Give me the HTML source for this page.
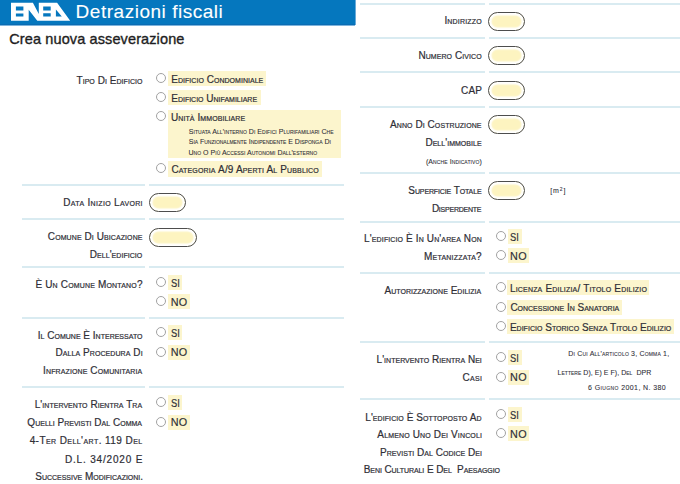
<!DOCTYPE html>
<html><head><meta charset="utf-8"><style>
html,body{margin:0;padding:0;background:#fff;width:680px;height:484px;overflow:hidden;position:relative}
body{font-family:"Liberation Sans",sans-serif}
.t{position:absolute;white-space:nowrap;display:block;-webkit-text-stroke:0.2px currentColor}
.t sup{font-size:5px;vertical-align:2.5px;line-height:0}
.ln{position:absolute;background:#d9ebf1}
.bx{position:absolute}
.rd{position:absolute;box-sizing:border-box;border:1.3px solid #a2a2a2;border-radius:50%;background:#fff}
.in{position:absolute;box-sizing:border-box;border:1.9px solid #4d4d4d;border-radius:10px;background:#fdf4c0;box-shadow:inset 0 0 1.5px 2.5px #fff}
</style></head><body>
<div style="position:absolute;left:0;top:0;width:355px;height:26px;background:linear-gradient(to bottom,#0577be 0,#0577be 24px,#0a6cb3 24px,#0a6cb3 25px,#7db4dc 25px)"></div><div style="position:absolute;left:355px;top:0;width:1px;height:25px;background:#6aaad8"></div>
<svg style="position:absolute;left:0;top:0" width="80" height="26" viewBox="0 0 80 26"><path fill="#fff" d="M11 2.8H28.7V20.7H11Z M28.7 2.8H32.9L38.8 13.9V20.7H37.3L28.7 9.7Z M38.8 2.8H55.9V20.7H38.8Z M55.9 2.8H57.1L70.2 20.7H55.9Z"/><path fill="#0577be" d="M15.9 6.45H23.4V10.4H15.9Z M15.9 13.5H23.4V16.6H15.9Z M43.2 6.45H50.7V10.4H43.2Z M43.2 13.2H50.7V16.6H43.2Z M55.9 9.4V16.4H61.8Z"/></svg>
<span class="t" style="top:2.12px;left:75.60px;font-size:19px;line-height:19px;color:#fff;transform-origin:0 50%;letter-spacing:0.521px;-webkit-text-stroke:0.1px #fff;">Detrazioni fiscali</span>
<span class="t" style="top:31.83px;left:9.29px;font-size:14.5px;line-height:14.5px;color:#1e1e22;transform-origin:0 50%;letter-spacing:0.113px;-webkit-text-stroke:0.35px #1e1e22;">Crea nuova asseverazione</span>
<div class="ln" style="left:21.5px;top:184px;width:123.5px;height:2px"></div>
<div class="ln" style="left:149.4px;top:184px;width:194.79999999999998px;height:2px"></div>
<div class="ln" style="left:21.5px;top:218px;width:123.5px;height:2px"></div>
<div class="ln" style="left:149.4px;top:218px;width:194.79999999999998px;height:2px"></div>
<div class="ln" style="left:21.5px;top:266px;width:123.5px;height:2px"></div>
<div class="ln" style="left:149.4px;top:266px;width:194.79999999999998px;height:2px"></div>
<div class="ln" style="left:21.5px;top:317px;width:123.5px;height:2px"></div>
<div class="ln" style="left:149.4px;top:317px;width:194.79999999999998px;height:2px"></div>
<div class="ln" style="left:21.5px;top:386px;width:123.5px;height:2px"></div>
<div class="ln" style="left:149.4px;top:386px;width:194.79999999999998px;height:2px"></div>
<div class="ln" style="left:359.8px;top:3px;width:125.39999999999998px;height:2px"></div>
<div class="ln" style="left:488.5px;top:3px;width:191.5px;height:2px"></div>
<div class="ln" style="left:359.8px;top:37px;width:125.39999999999998px;height:2px"></div>
<div class="ln" style="left:488.5px;top:37px;width:191.5px;height:2px"></div>
<div class="ln" style="left:359.8px;top:71px;width:125.39999999999998px;height:2px"></div>
<div class="ln" style="left:488.5px;top:71px;width:191.5px;height:2px"></div>
<div class="ln" style="left:359.8px;top:106px;width:125.39999999999998px;height:2px"></div>
<div class="ln" style="left:488.5px;top:106px;width:191.5px;height:2px"></div>
<div class="ln" style="left:359.8px;top:172px;width:125.39999999999998px;height:2px"></div>
<div class="ln" style="left:488.5px;top:172px;width:191.5px;height:2px"></div>
<div class="ln" style="left:359.8px;top:221px;width:125.39999999999998px;height:2px"></div>
<div class="ln" style="left:488.5px;top:221px;width:191.5px;height:2px"></div>
<div class="ln" style="left:359.8px;top:272px;width:125.39999999999998px;height:2px"></div>
<div class="ln" style="left:488.5px;top:272px;width:191.5px;height:2px"></div>
<div class="ln" style="left:359.8px;top:341px;width:125.39999999999998px;height:2px"></div>
<div class="ln" style="left:488.5px;top:341px;width:191.5px;height:2px"></div>
<div class="ln" style="left:359.8px;top:398px;width:125.39999999999998px;height:2px"></div>
<div class="ln" style="left:488.5px;top:398px;width:191.5px;height:2px"></div>
<span class="t" style="top:75.69px;left:76.50px;font-size:10px;line-height:10px;color:#2e2e36;transform-origin:0 50%;font-variant:small-caps;letter-spacing:0.047px;">Tipo Di Edificio</span>
<span class="t" style="top:198.13px;left:63.25px;font-size:10px;line-height:10px;color:#2e2e36;transform-origin:0 50%;font-variant:small-caps;letter-spacing:0.335px;">Data Inizio Lavori</span>
<span class="t" style="top:232.34px;left:47.85px;font-size:10px;line-height:10px;color:#2e2e36;transform-origin:0 50%;font-variant:small-caps;letter-spacing:0.087px;">Comune Di Ubicazione</span>
<span class="t" style="top:250.34px;left:89.79px;font-size:10px;line-height:10px;color:#2e2e36;transform-origin:0 50%;font-variant:small-caps;letter-spacing:0.046px;">Dell'edificio</span>
<span class="t" style="top:279.84px;left:35.39px;font-size:10px;line-height:10px;color:#2e2e36;transform-origin:0 50%;font-variant:small-caps;letter-spacing:0.171px;">È Un Comune Montano?</span>
<span class="t" style="top:330.54px;left:37.75px;font-size:10px;line-height:10px;color:#2e2e36;transform-origin:0 50%;font-variant:small-caps;letter-spacing:0.009px;">Il Comune È Interessato</span>
<span class="t" style="top:348.34px;left:55.44px;font-size:10px;line-height:10px;color:#2e2e36;transform-origin:0 50%;font-variant:small-caps;letter-spacing:0.079px;">Dalla Procedura Di</span>
<span class="t" style="top:365.54px;left:43.10px;font-size:10px;line-height:10px;color:#2e2e36;transform-origin:0 50%;font-variant:small-caps;letter-spacing:0.114px;">Infrazione Comunitaria</span>
<span class="t" style="top:400.04px;left:34.75px;font-size:10px;line-height:10px;color:#2e2e36;transform-origin:0 50%;font-variant:small-caps;letter-spacing:0.041px;">L'intervento Rientra Tra</span>
<span class="t" style="top:417.64px;left:27.35px;font-size:10px;line-height:10px;color:#2e2e36;transform-origin:0 50%;font-variant:small-caps;letter-spacing:0.017px;">Quelli Previsti Dal Comma</span>
<span class="t" style="top:435.89px;left:29.64px;font-size:10px;line-height:10px;color:#2e2e36;transform-origin:0 50%;font-variant:small-caps;letter-spacing:0.432px;">4-Ter Dell'art. 119 Del</span>
<span class="t" style="top:454.79px;left:64.89px;font-size:10px;line-height:10px;color:#2e2e36;transform-origin:0 50%;font-variant:small-caps;letter-spacing:0.827px;">D.L. 34/2020 E</span>
<span class="t" style="top:472.44px;left:35.25px;font-size:10px;line-height:10px;color:#2e2e36;transform-origin:0 50%;font-variant:small-caps;letter-spacing:-0.013px;">Successive Modificazioni.</span>
<div class="rd" style="left:156px;top:73px;width:10px;height:10px"></div>
<div class="bx" style="left:167.8px;top:71.1px;width:98.5px;height:15.0px;background:#fcf5cd"></div>
<span class="t" style="top:74.94px;left:171.25px;font-size:10px;line-height:10px;color:#2e2e36;transform-origin:0 50%;font-variant:small-caps;letter-spacing:0.035px;">Edificio Condominiale</span>
<div class="rd" style="left:156px;top:92px;width:10px;height:10px"></div>
<div class="bx" style="left:167.8px;top:90.1px;width:92.89999999999998px;height:15.0px;background:#fcf5cd"></div>
<span class="t" style="top:94.23px;left:171.25px;font-size:10px;line-height:10px;color:#2e2e36;transform-origin:0 50%;font-variant:small-caps;letter-spacing:-0.005px;">Edificio Unifamiliare</span>
<div class="rd" style="left:156px;top:111px;width:10px;height:10px"></div>
<div class="bx" style="left:167.8px;top:109.9px;width:172.89999999999998px;height:48.0px;background:#fcf5cd"></div>
<span class="t" style="top:113.28px;left:170.94px;font-size:10px;line-height:10px;color:#2e2e36;transform-origin:0 50%;font-variant:small-caps;letter-spacing:0.094px;">Unità Immobiliare</span>
<span class="t" style="top:127.57px;left:188.75px;font-size:7px;line-height:7px;color:#2e2e36;transform-origin:0 50%;font-variant:small-caps;-webkit-text-stroke:0.08px;letter-spacing:0.040px;">Situata All'interno Di Edifici Plurifamiliari Che</span>
<span class="t" style="top:138.27px;left:188.75px;font-size:7px;line-height:7px;color:#2e2e36;transform-origin:0 50%;font-variant:small-caps;-webkit-text-stroke:0.08px;letter-spacing:-0.017px;">Sia Funzionalmente Indipendente E Disponga Di</span>
<span class="t" style="top:149.42px;left:188.50px;font-size:7px;line-height:7px;color:#2e2e36;transform-origin:0 50%;font-variant:small-caps;-webkit-text-stroke:0.08px;letter-spacing:0.029px;">Uno O Più Accessi Autonomi Dall'esterno</span>
<div class="rd" style="left:156px;top:163px;width:10px;height:10px"></div>
<div class="bx" style="left:167.8px;top:161.1px;width:154.7px;height:15.699999999999989px;background:#fcf5cd"></div>
<span class="t" style="top:165.44px;left:171.39px;font-size:10px;line-height:10px;color:#2e2e36;transform-origin:0 50%;font-variant:small-caps;letter-spacing:0.158px;">Categoria A/9 Aperti Al Pubblico</span>
<div class="in" style="left:148.8px;top:193.1px;width:37.00px;height:19.00px"></div>
<div class="in" style="left:148.8px;top:227.7px;width:48.50px;height:19.50px"></div>
<div class="rd" style="left:156px;top:276.5px;width:10px;height:10px"></div>
<div class="bx" style="left:168.3px;top:274.8px;width:14.099999999999994px;height:15.0px;background:#fcf5cd"></div>
<span class="t" style="top:277.76px;left:171.09px;font-size:10.8px;line-height:10.8px;color:#2e2e36;transform-origin:0 50%;transform:scaleX(0.8667);-webkit-text-stroke:0.15px;">SI</span>
<div class="rd" style="left:156px;top:296px;width:10px;height:10px"></div>
<div class="bx" style="left:168.3px;top:294px;width:21.5px;height:15px;background:#fcf5cd"></div>
<span class="t" style="top:296.86px;left:170.69px;font-size:10.8px;line-height:10.8px;color:#2e2e36;transform-origin:0 50%;letter-spacing:0.300px;-webkit-text-stroke:0.15px;">NO</span>
<div class="rd" style="left:156px;top:327px;width:10px;height:10px"></div>
<div class="bx" style="left:168.3px;top:325.3px;width:14.099999999999994px;height:15.0px;background:#fcf5cd"></div>
<span class="t" style="top:328.26px;left:171.09px;font-size:10.8px;line-height:10.8px;color:#2e2e36;transform-origin:0 50%;transform:scaleX(0.8667);-webkit-text-stroke:0.15px;">SI</span>
<div class="rd" style="left:156px;top:346.5px;width:10px;height:10px"></div>
<div class="bx" style="left:168.3px;top:344.5px;width:21.5px;height:15.0px;background:#fcf5cd"></div>
<span class="t" style="top:347.36px;left:170.69px;font-size:10.8px;line-height:10.8px;color:#2e2e36;transform-origin:0 50%;letter-spacing:0.300px;-webkit-text-stroke:0.15px;">NO</span>
<div class="rd" style="left:156px;top:397px;width:10px;height:10px"></div>
<div class="bx" style="left:168.3px;top:395.3px;width:14.099999999999994px;height:15.0px;background:#fcf5cd"></div>
<span class="t" style="top:398.26px;left:171.09px;font-size:10.8px;line-height:10.8px;color:#2e2e36;transform-origin:0 50%;transform:scaleX(0.8667);-webkit-text-stroke:0.15px;">SI</span>
<div class="rd" style="left:156px;top:416.5px;width:10px;height:10px"></div>
<div class="bx" style="left:168.3px;top:414.5px;width:21.5px;height:15.0px;background:#fcf5cd"></div>
<span class="t" style="top:417.36px;left:170.69px;font-size:10.8px;line-height:10.8px;color:#2e2e36;transform-origin:0 50%;letter-spacing:0.300px;-webkit-text-stroke:0.15px;">NO</span>
<span class="t" style="top:16.14px;left:444.39px;font-size:10px;line-height:10px;color:#2e2e36;transform-origin:0 50%;font-variant:small-caps;letter-spacing:0.181px;">Indirizzo</span>
<span class="t" style="top:50.94px;left:418.39px;font-size:10px;line-height:10px;color:#2e2e36;transform-origin:0 50%;font-variant:small-caps;letter-spacing:0.079px;">Numero Civico</span>
<span class="t" style="top:85.94px;left:461.04px;font-size:10px;line-height:10px;color:#2e2e36;transform-origin:0 50%;font-variant:small-caps;letter-spacing:0.125px;">CAP</span>
<span class="t" style="top:119.88px;left:390.00px;font-size:10px;line-height:10px;color:#2e2e36;transform-origin:0 50%;font-variant:small-caps;letter-spacing:0.078px;">Anno Di Costruzione</span>
<span class="t" style="top:137.88px;left:425.39px;font-size:10px;line-height:10px;color:#2e2e36;transform-origin:0 50%;font-variant:small-caps;letter-spacing:0.037px;">Dell'immobile</span>
<span class="t" style="top:157.67px;left:425.89px;font-size:7px;line-height:7px;color:#2e2e36;transform-origin:0 50%;font-variant:small-caps;-webkit-text-stroke:0.08px;letter-spacing:0.100px;">(Anche Indicativo)</span>
<span class="t" style="top:185.84px;left:408.35px;font-size:10px;line-height:10px;color:#2e2e36;transform-origin:0 50%;font-variant:small-caps;letter-spacing:-0.119px;">Superficie Totale</span>
<span class="t" style="top:203.73px;left:431.89px;font-size:10px;line-height:10px;color:#2e2e36;transform-origin:0 50%;font-variant:small-caps;letter-spacing:-0.230px;">Disperdente</span>
<span class="t" style="top:234.19px;left:364.10px;font-size:10px;line-height:10px;color:#2e2e36;transform-origin:0 50%;font-variant:small-caps;letter-spacing:0.129px;">L'edificio È In Un'area Non</span>
<span class="t" style="top:252.23px;left:423.94px;font-size:10px;line-height:10px;color:#2e2e36;transform-origin:0 50%;font-variant:small-caps;letter-spacing:0.232px;">Metanizzata?</span>
<span class="t" style="top:285.99px;left:384.50px;font-size:10px;line-height:10px;color:#2e2e36;transform-origin:0 50%;font-variant:small-caps;letter-spacing:0.030px;">Autorizzazione Edilizia</span>
<span class="t" style="top:355.24px;left:376.60px;font-size:10px;line-height:10px;color:#2e2e36;transform-origin:0 50%;font-variant:small-caps;letter-spacing:0.026px;">L'intervento Rientra Nei</span>
<span class="t" style="top:372.69px;left:462.39px;font-size:10px;line-height:10px;color:#2e2e36;transform-origin:0 50%;font-variant:small-caps;letter-spacing:0.317px;">Casi</span>
<span class="t" style="top:412.54px;left:365.25px;font-size:10px;line-height:10px;color:#2e2e36;transform-origin:0 50%;font-variant:small-caps;letter-spacing:0.076px;">L'edificio È Sottoposto Ad</span>
<span class="t" style="top:429.79px;left:377.35px;font-size:10px;line-height:10px;color:#2e2e36;transform-origin:0 50%;font-variant:small-caps;letter-spacing:0.148px;">Almeno Uno Dei Vincoli</span>
<span class="t" style="top:447.94px;left:380.10px;font-size:10px;line-height:10px;color:#2e2e36;transform-origin:0 50%;font-variant:small-caps;letter-spacing:0.027px;">Previsti Dal Codice Dei</span>
<span class="t" style="top:465.39px;left:363.75px;font-size:10px;line-height:10px;color:#2e2e36;transform-origin:0 50%;font-variant:small-caps;letter-spacing:-0.087px;">Beni Culturali E Del&nbsp; Paesaggio</span>
<div class="in" style="left:488.1px;top:11.5px;width:36.90px;height:19.20px"></div>
<div class="in" style="left:488.1px;top:46px;width:36.90px;height:19.10px"></div>
<div class="in" style="left:488.1px;top:81px;width:36.90px;height:19.00px"></div>
<div class="in" style="left:488.1px;top:115.3px;width:36.90px;height:19.10px"></div>
<div class="in" style="left:488.1px;top:181px;width:36.90px;height:19.00px"></div>
<span class="t" style="top:187.37px;left:550.19px;font-size:7px;line-height:7px;color:#2e2e36;transform-origin:0 50%;-webkit-text-stroke:0.08px;letter-spacing:0.917px;">[m<sup>2</sup>]</span>
<div class="rd" style="left:495.5px;top:231px;width:10px;height:10px"></div>
<div class="bx" style="left:507.6px;top:229.3px;width:14.100000000000023px;height:15.0px;background:#fcf5cd"></div>
<span class="t" style="top:232.26px;left:510.43px;font-size:10.8px;line-height:10.8px;color:#2e2e36;transform-origin:0 50%;transform:scaleX(0.8667);-webkit-text-stroke:0.15px;">SI</span>
<div class="rd" style="left:495.5px;top:250px;width:10px;height:10px"></div>
<div class="bx" style="left:507.6px;top:248px;width:21.5px;height:15px;background:#fcf5cd"></div>
<span class="t" style="top:250.86px;left:510.04px;font-size:10.8px;line-height:10.8px;color:#2e2e36;transform-origin:0 50%;letter-spacing:0.300px;-webkit-text-stroke:0.15px;">NO</span>
<div class="rd" style="left:495.5px;top:282.3px;width:10px;height:10px"></div>
<div class="bx" style="left:507.4px;top:280.40000000000003px;width:142.0px;height:15.0px;background:#fcf5cd"></div>
<span class="t" style="top:283.74px;left:509.89px;font-size:10px;line-height:10px;color:#2e2e36;transform-origin:0 50%;font-variant:small-caps;letter-spacing:0.195px;">Licenza Edilizia/ Titolo Edilizio</span>
<div class="rd" style="left:495.5px;top:301.5px;width:10px;height:10px"></div>
<div class="bx" style="left:507.4px;top:299.6px;width:114.70000000000005px;height:15.0px;background:#fcf5cd"></div>
<span class="t" style="top:303.34px;left:510.39px;font-size:10px;line-height:10px;color:#2e2e36;transform-origin:0 50%;font-variant:small-caps;letter-spacing:-0.009px;">Concessione In Sanatoria</span>
<div class="rd" style="left:495.5px;top:321px;width:10px;height:10px"></div>
<div class="bx" style="left:507.4px;top:319.1px;width:167.10000000000002px;height:15.0px;background:#fcf5cd"></div>
<span class="t" style="top:323.24px;left:509.89px;font-size:10px;line-height:10px;color:#2e2e36;transform-origin:0 50%;font-variant:small-caps;letter-spacing:0.024px;">Edificio Storico Senza Titolo Edilizio</span>
<div class="rd" style="left:495.5px;top:352px;width:10px;height:10px"></div>
<div class="bx" style="left:507.6px;top:350.3px;width:14.100000000000023px;height:15.0px;background:#fcf5cd"></div>
<span class="t" style="top:353.26px;left:510.43px;font-size:10.8px;line-height:10.8px;color:#2e2e36;transform-origin:0 50%;transform:scaleX(0.8667);-webkit-text-stroke:0.15px;">SI</span>
<div class="rd" style="left:495.5px;top:371.5px;width:10px;height:10px"></div>
<div class="bx" style="left:507.6px;top:369.5px;width:21.5px;height:15.0px;background:#fcf5cd"></div>
<span class="t" style="top:372.36px;left:510.04px;font-size:10.8px;line-height:10.8px;color:#2e2e36;transform-origin:0 50%;letter-spacing:0.300px;-webkit-text-stroke:0.15px;">NO</span>
<span class="t" style="top:350.27px;left:568.35px;font-size:7px;line-height:7px;color:#2e2e36;transform-origin:0 50%;font-variant:small-caps;-webkit-text-stroke:0.08px;letter-spacing:0.188px;">Di Cui All'articolo 3, Comma 1,</span>
<span class="t" style="top:369.02px;left:557.50px;font-size:7px;line-height:7px;color:#2e2e36;transform-origin:0 50%;font-variant:small-caps;-webkit-text-stroke:0.08px;letter-spacing:0.036px;">Lettere D), E) E F), Del&nbsp; DPR</span>
<span class="t" style="top:383.87px;left:588.04px;font-size:7px;line-height:7px;color:#2e2e36;transform-origin:0 50%;font-variant:small-caps;-webkit-text-stroke:0.08px;letter-spacing:0.398px;">6 Giugno 2001, N. 380</span>
<div class="rd" style="left:495.5px;top:409px;width:10px;height:10px"></div>
<div class="bx" style="left:507.6px;top:407.3px;width:14.100000000000023px;height:15.0px;background:#fcf5cd"></div>
<span class="t" style="top:410.26px;left:510.43px;font-size:10.8px;line-height:10.8px;color:#2e2e36;transform-origin:0 50%;transform:scaleX(0.8667);-webkit-text-stroke:0.15px;">SI</span>
<div class="rd" style="left:495.5px;top:428px;width:10px;height:10px"></div>
<div class="bx" style="left:507.6px;top:426px;width:21.5px;height:15px;background:#fcf5cd"></div>
<span class="t" style="top:428.86px;left:510.04px;font-size:10.8px;line-height:10.8px;color:#2e2e36;transform-origin:0 50%;letter-spacing:0.300px;-webkit-text-stroke:0.15px;">NO</span>
</body></html>
